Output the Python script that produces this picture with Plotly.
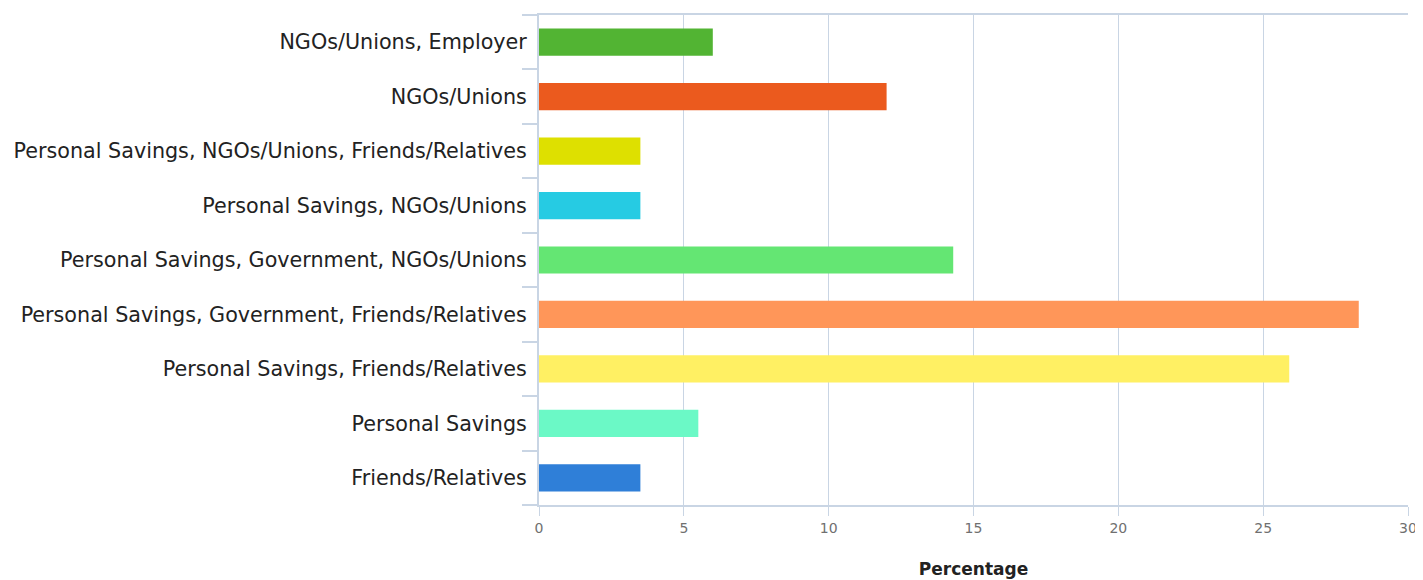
import plotly.graph_objects as go

categories = [
    "Friends/Relatives",
    "Personal Savings",
    "Personal Savings, Friends/Relatives",
    "Personal Savings, Government, Friends/Relatives",
    "Personal Savings, Government, NGOs/Unions",
    "Personal Savings, NGOs/Unions",
    "Personal Savings, NGOs/Unions, Friends/Relatives",
    "NGOs/Unions",
    "NGOs/Unions, Employer",
]
values = [3.5, 5.5, 25.9, 28.3, 14.3, 3.5, 3.5, 12.0, 6.0]
colors = ["#2f7fd8", "#6bf9c6", "#fff063", "#ff9659", "#64e673",
          "#26cbe3", "#dee000", "#eb5a1e", "#52b433"]
x_ticks = [0, 5, 10, 15, 20, 25, 30]

grid = "#c9d5e4"
FONT = "DejaVu Sans"

fig = go.Figure(go.Bar(
    x=values, y=categories, orientation="h",
    marker=dict(color=colors, line=dict(width=0)),
    width=0.5, showlegend=False,
))

fig.update_layout(
    width=1415, height=572,
    margin=dict(l=531, r=15, t=7, b=75),
    paper_bgcolor="white", plot_bgcolor="white",
    font=dict(family=FONT, color="#222"),
)
fig.update_xaxes(
    range=[0, 30], tickvals=x_ticks, showgrid=True, gridcolor=grid, gridwidth=1,
    showline=True, linecolor=grid, linewidth=2, mirror=True,
    ticks="outside", ticklen=9, tickcolor=grid,
    tickfont=dict(size=14, color="#707070", family=FONT),
    zeroline=False, automargin=False,
    title=dict(text="<b>Percentage</b>", font=dict(size=17, color="#222", family=FONT), standoff=28),
)
fig.update_yaxes(
    categoryorder="array", categoryarray=categories,
    tickson="boundaries", ticks="outside", ticklen=15, tickcolor=grid, tickwidth=2,
    showline=True, linecolor=grid, linewidth=2,
    showgrid=False,
    tickfont=dict(size=20.7, color="#222", family=FONT),
    ticklabelstandoff=6,
)
fig.write_html("out.html")
